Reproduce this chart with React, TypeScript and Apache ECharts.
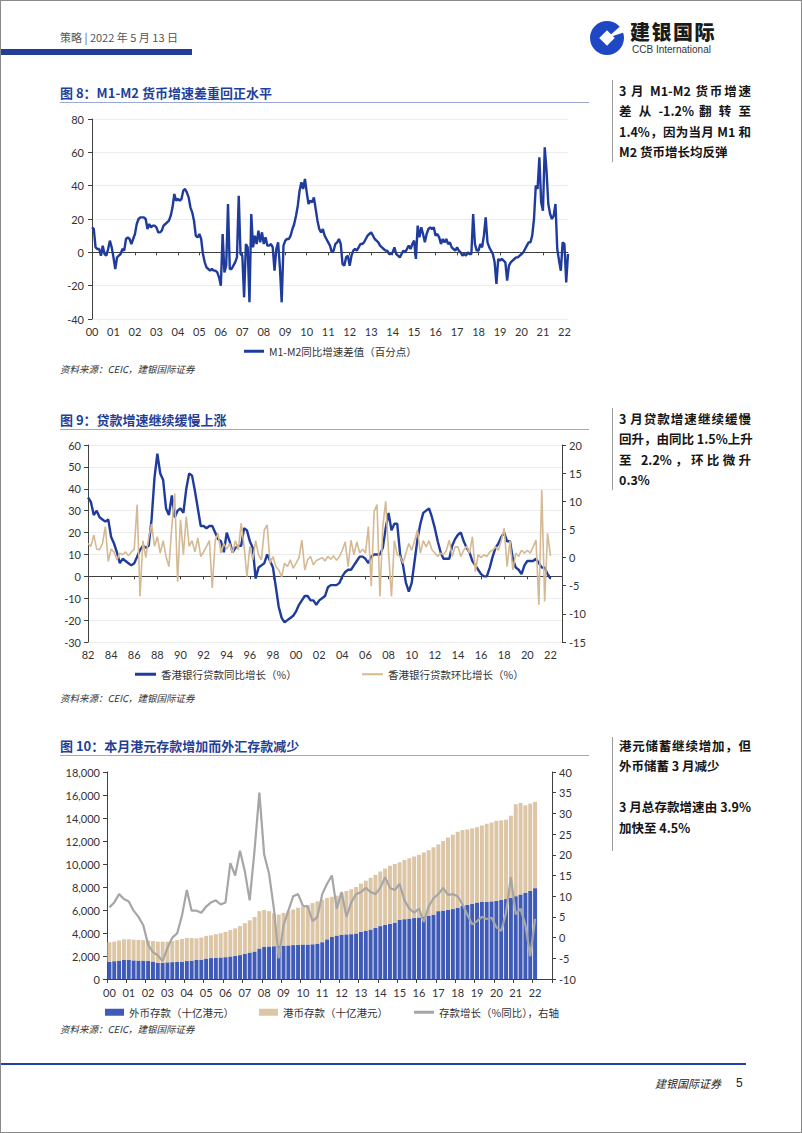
import React, { useEffect, useRef } from "react";
import * as echarts from "echarts";

const FONT = "Lato, 'Noto Sans CJK SC', sans-serif";
const CJK = "'Noto Sans CJK SC', sans-serif";

// ---------- Figure 8: M1-M2 gap, monthly 2000-01 .. 2022-03 ----------
const fig8SeriesName = "M1-M2同比增速差值（百分点）";
const m1m2Gap = [
  15, 14, 3, 2, 2, -2, 4, -1, -2, 2, 7, 3,
  -3, -10, -3, -2, -1, 2, 1, 8, 9, 8, 5, 8,
  11, 17, 20, 21, 21, 21, 20, 14, 17, 15, 16, 16,
  15, 12, 12, 13, 16, 17, 18, 19, 22, 27, 35, 31,
  32, 31, 32, 37, 38, 36, 33, 27, 24, 19, 10, 9,
  11, 8, -1, -6, -9, -10, -11, -10, -11, -11, -12, -15,
  -20, 11, -12, -8, 29, -10, -10, -8, -6, -3, 34, -1,
  -2, -27, 5, 3, -30, 23, 3, 10, 5, 13, 6, 12,
  5, 9, 4, 4, 5, 3, -11, 2, 6, -9, -30, 4,
  7, 8, 8, 10, 14, 17, 22, 28, 37, 42, 38, 44,
  36, 29, 31, 30, 33, 26, 19, 14, 12, 14, 10, 8,
  6, 4, 0, 1, 5, 6, 8, 5, -7, -8, -3, -2,
  -8, -2, 1, 2, 1, 3, 5, 5, 6, 8, 10, 11,
  12, 10, 8, 7, 6, 4, 3, 2, 1, 1, -1, -1,
  0, 3, -1, -2, -3, -1, 1, 0, 2, 4, 2, 5,
  7, -4, 16, 9, 15, 11, 6, 11, 14, 15, 14, 15,
  10, 11, 9, 5, 8, 6, 8, 5, 6, 3, 2, 1,
  3, 1, 0, -2, -1, -2, 0, -1, -1, 23, 5, 1,
  1, 5, 3, 10, 21, 6, 3, 1, -1, -6, -19, -4,
  -5, -4, -5, -6, -17, -8, -6, -5, -4, -3, -3, -2,
  -1, 0, 2, 4, 6, 6, 10, 20, 40, 38, 57, 30,
  25, 63, 49, 29, 23, 20, 22, 29, 2, -5, -11, 6,
  5, -18, -1,
];
const fig8Months: string[] = [];
for (let y = 2000; y <= 2022; y++) {
  for (let m = 1; m <= 12; m++) {
    if (y === 2022 && m > 3) break;
    fig8Months.push(`${y}-${String(m).padStart(2, "0")}`);
  }
}

// ---------- Figure 9: HK bank loans, quarterly 1982Q1 .. 2022Q1 ----------
const fig9YoYName = "香港银行贷款同比增长（%）";
const fig9MoMName = "香港银行贷款环比增长（%）";
const loanYoY = [
  36, 34, 28, 30, 27, 26, 25, 26, 18, 15, 11, 6, 8, 7, 6, 5,
  6, 9, 12, 14, 13, 14, 26, 45, 56, 47, 44, 31, 28, 37, 27, 30,
  31, 29, 40, 47, 46, 39, 31, 23, 23, 22, 23, 23, 20, 17, 16, 11,
  20, 16, 11, 13, 14, 14, 22, 21, 16, 13, -1, 4, 5, 6, 10, 7,
  4, -5, -14, -19, -21, -20, -19, -18, -16, -13, -11, -9, -9, -11, -11, -13,
  -11, -10, -9, -5, -4, -4, -4, -3, 0, 2, 3, 3, 5, 7, 9, 9,
  8, 6, 9, 10, 10, 10, 13, 22, 29, 21, 24, 24, 10, 5, -3, -7,
  -3, 7, 17, 24, 29, 30, 31, 27, 22, 16, 11, 8, 8, 8, 14, 17,
  19, 20, 16, 13, 11, 7, 5, 3, 1, 0, 0, 4, 9, 13, 15, 18,
  20, 16, 16, 8, 4, 3, 1, 5, 7, 7, 7, 8, 6, 4, 4, 1,
  -1,
];
const loanMoM = [
  2.5, 2, 4, 1.5, 1.4, 2.5, 5.5, -0.7, 1.5, 1, -0.4, 0.8, 0.5, 1, 0.3, 1,
  1.5, 9.4, -6.9, 3, 0, 3.5, 6, 2, 3.7, 0.8, 3, 0.2, -1.6, 5.5, 11.4, -4.3,
  6.7, 0.5, 7.3, 2, 3, 1, 3.5, 0.2, 1, 2, 3, -5.4, 3, 4.3, 0.8, 2.5,
  1.5, 2.5, 0.8, 3, 1.4, 6.1, 2, -3.4, 2, -0.4, 3, 0.5, -0.4, 4.9, 5.8, -1,
  0.2, -1.6, -2.2, -3.4, -1, -1.6, -0.4, -1.9, -1, 0, 3.1, -2.2, -0.4, 0.2, -1.3, -0.5,
  -0.3, 0, -0.6, 0.2, -0.3, 0.3, -0.5, 0.2, 1.3, 2.8, -1.6, 3.1, 0.5, 2.8, 0.8, 1.5,
  0.8, 5.5, -5.1, 8.2, 9.4, -6.9, 5.5, 10, 0.8, -6.9, 3, 0.5, 0.2, -1, 0.8, 2.5,
  1.3, 3, 4.9, 0.8, 3, 1.9, 3, 1.4, 0.8, 0.2, 0.8, 0.5, 1.3, 3.1, 0.2, 1.9,
  1.9, 0.2, 1.3, 2, 0.8, 3.7, -2.5, 0.5, 0, 0.5, 0.2, 1, 1.3, 1.9, 1.3, 3.1,
  5.2, -1.6, 3, -2.2, 0.8, 0.2, 1.3, 0.8, 1.3, 0.8, 1.9, 3.1, -8.4, 12, -7.8, 4.3,
  0.3,
];
const fig9Quarters: string[] = [];
for (let y = 1982; y <= 2023; y++) {
  for (let q = 1; q <= 4; q++) {
    if (y === 2023 && q > 1) break;
    fig9Quarters.push(`${y}Q${q}`);
  }
}

// ---------- Figure 10: deposits, quarterly 2000Q1 .. 2022Q1 ----------
const fig10FxName = "外币存款（十亿港元）";
const fig10HkdName = "港币存款（十亿港元）";
const fig10GrowthName = "存款增长（%同比），右轴";
const fxDeposits = [
  1500, 1550, 1600, 1650, 1650, 1620, 1600, 1600, 1580, 1520, 1420, 1400,
  1450, 1470, 1480, 1500, 1560, 1600, 1650, 1680, 1780, 1820, 1850, 1870,
  1900, 1960, 2020, 2080, 2200, 2300, 2400, 2650, 2800, 2830, 2850, 2870,
  2900, 2920, 2950, 2980, 3000, 3000, 3020, 3080, 3200, 3450, 3650, 3780,
  3850, 3880, 3900, 3960, 4100, 4200, 4300, 4450, 4600, 4700, 4800, 4900,
  5150, 5200, 5250, 5300, 5350, 5400, 5480, 5600, 5900, 5950, 6000, 6080,
  6200, 6350, 6450, 6550, 6650, 6700, 6700, 6750, 6800, 6900, 6950, 7050,
  7200, 7350, 7500, 7650, 7900,
];
const hkdDeposits = [
  1700, 1700, 1750, 1800, 1800, 1800, 1800, 1780, 1770, 1780, 1830, 1850,
  1800, 1830, 1900, 1980, 2000, 1960, 1880, 1920, 1970, 1980, 2050, 2110,
  2200, 2290, 2380, 2520, 2650, 2800, 3000, 3250, 3200, 3070, 2850, 2730,
  2850, 2980, 3100, 3220, 3300, 3450, 3580, 3670, 3700, 3600, 3500, 3470,
  3650, 3770, 3900, 4040, 4200, 4350, 4500, 4600, 4750, 4900, 5050, 5100,
  5000, 5150, 5250, 5350, 5450, 5600, 5720, 5850, 5800, 6050, 6300, 6470,
  6600, 6600, 6550, 6550, 6550, 6650, 6800, 6850, 6950, 6900, 6900, 7150,
  8000, 7950, 7600, 7600, 7500,
];
const depositGrowth = [
  7.3, 8.5, 10.5, 9.3, 8.7, 6.5, 5, 3, -1.7, -3.5, -4.3, -5.7,
  -2.5, 0, 1, 5.3, 11.5, 6.5, 6.5, 6, 7.5, 8.5, 9, 8,
  8.5, 18, 15, 21, 16, 9, 21, 35, 20, 15.5, 7, -5,
  3, 6.5, 10, 10.5, 7.7, 7.5, 4, 5, 10.5, 13, 15, 7,
  11, 5, 8.5, 10.5, 11, 12, 11, 10.5, 12, 14.6, 12, 11.5,
  13, 9, 7, 6, 7, 3.8, 7.5, 9.5, 10.5, 12, 10.3, 10.5,
  10, 8, 5.5, 3.2, 4, 5, 4.5, 4.8, 2.5, 1.6, 6, 14.6,
  5.6, 7, 3, -4.5, 4.5,
];
const fig10Quarters: string[] = [];
for (let y = 2000; y <= 2022; y++) {
  for (let q = 1; q <= 4; q++) fig10Quarters.push(`${y}Q${q}`);
}

const sourceText = "资料来源：CEIC，建银国际证券";

const yearLabel = (v: string) => v.slice(2, 4);
const AX = "#404040";
const LBL = { fontSize: 11, color: "#333", fontFamily: FONT };
const LEG_TXT = { fontSize: 10.5, color: "#333", fontFamily: CJK };

const opt1 = {
  animation: false,
  textStyle: { fontFamily: FONT },
  grid: { left: 92, right: 234, top: 14, height: 200 },
  legend: {
    data: [fig8SeriesName], left: 239, top: 236, icon: "rect",
    itemWidth: 20, itemHeight: 3, itemGap: 4, textStyle: LEG_TXT,
  },
  xAxis: [
    {
      type: "category", data: fig8Months, boundaryGap: false,
      axisLine: { show: false, onZero: false }, axisTick: { show: false },
      axisLabel: { ...LBL, interval: 11, formatter: yearLabel, margin: 7 },
      splitLine: { show: false },
    },
    {
      type: "category", data: fig8Months, boundaryGap: false, position: "bottom",
      axisLine: { show: true, onZero: true, lineStyle: { color: AX } },
      axisTick: { show: true, interval: 11, length: 3, lineStyle: { color: AX } },
      axisLabel: { show: false }, splitLine: { show: false },
    },
  ],
  yAxis: {
    type: "value", min: -40, max: 80, interval: 20,
    axisLine: { show: true, lineStyle: { color: AX } },
    axisTick: { show: true, length: 4, lineStyle: { color: AX } },
    axisLabel: { ...LBL, margin: 8 },
    splitLine: { lineStyle: { color: "#ececec" } },
  },
  series: [
    {
      name: fig8SeriesName, type: "line", data: m1m2Gap, symbol: "none",
      lineStyle: { color: "#1f3c9c", width: 2.4 }, itemStyle: { color: "#1f3c9c" },
    },
  ],
};

const opt2 = {
  animation: false,
  textStyle: { fontFamily: FONT },
  grid: { left: 88, right: 240, top: 10, height: 197 },
  legend: [
    { data: [fig9YoYName], left: 130, top: 229, icon: "rect", itemWidth: 21, itemHeight: 3, itemGap: 4, textStyle: LEG_TXT },
    { data: [fig9MoMName], left: 357, top: 229, icon: "rect", itemWidth: 21, itemHeight: 2, itemGap: 4, textStyle: LEG_TXT },
  ],
  xAxis: [
    {
      type: "category", data: fig9Quarters, boundaryGap: false,
      axisLine: { show: false, onZero: false }, axisTick: { show: false },
      axisLabel: { ...LBL, interval: 7, formatter: yearLabel, margin: 7 },
      splitLine: { show: false },
    },
    {
      type: "category", data: fig9Quarters, boundaryGap: false, position: "bottom",
      axisLine: { show: true, onZero: true, onZeroAxisIndex: 0, lineStyle: { color: AX } },
      axisTick: { show: true, interval: 7, length: 3, lineStyle: { color: AX } },
      axisLabel: { show: false }, splitLine: { show: false },
    },
  ],
  yAxis: [
    {
      type: "value", min: -30, max: 60, interval: 10, position: "left",
      axisLine: { show: true, lineStyle: { color: AX } },
      axisTick: { show: true, length: 4, lineStyle: { color: AX } },
      axisLabel: { ...LBL, margin: 7 },
      splitLine: { lineStyle: { color: "#ececec" } },
    },
    {
      type: "value", min: -15, max: 20, interval: 5, position: "right",
      axisLine: { show: true, lineStyle: { color: AX } },
      axisTick: { show: true, length: 4, lineStyle: { color: AX } },
      axisLabel: { ...LBL, margin: 7 },
      splitLine: { show: false },
    },
  ],
  series: [
    {
      name: fig9YoYName, type: "line", data: loanYoY, symbol: "none", yAxisIndex: 0,
      lineStyle: { color: "#1f3c9c", width: 2.4 }, itemStyle: { color: "#1f3c9c" },
    },
    {
      name: fig9MoMName, type: "line", data: loanMoM, symbol: "none", yAxisIndex: 1,
      lineStyle: { color: "#d4b993", width: 1.6 }, itemStyle: { color: "#d4b993" },
    },
  ],
};

const opt3 = {
  animation: false,
  textStyle: { fontFamily: FONT },
  grid: { left: 107, right: 250, top: 12, height: 207 },
  legend: [
    { data: [fig10FxName], left: 100, top: 242, icon: "rect", itemWidth: 19, itemHeight: 7, itemGap: 4, textStyle: LEG_TXT },
    { data: [fig10HkdName], left: 254, top: 242, icon: "rect", itemWidth: 19, itemHeight: 7, itemGap: 4, textStyle: LEG_TXT },
    { data: [fig10GrowthName], left: 409, top: 242, icon: "rect", itemWidth: 20, itemHeight: 3, itemGap: 4, textStyle: LEG_TXT },
  ],
  xAxis: {
    type: "category", data: fig10Quarters, boundaryGap: true,
    axisLine: { show: true, lineStyle: { color: AX } },
    axisTick: { show: true, interval: 3, length: 4, lineStyle: { color: AX } },
    axisLabel: { ...LBL, interval: 3, formatter: yearLabel, margin: 8 },
    splitLine: { show: false },
  },
  yAxis: [
    {
      type: "value", min: 0, max: 18000, interval: 2000, position: "left",
      axisLine: { show: true, lineStyle: { color: AX } },
      axisTick: { show: true, length: 4, lineStyle: { color: AX } },
      axisLabel: { ...LBL, margin: 7, formatter: (v: number) => v.toLocaleString("en-US") },
      splitLine: { show: false },
    },
    {
      type: "value", min: -10, max: 40, interval: 5, position: "right",
      axisLine: { show: true, lineStyle: { color: AX } },
      axisTick: { show: true, length: 4, lineStyle: { color: AX } },
      axisLabel: { ...LBL, margin: 7 },
      splitLine: { show: false },
    },
  ],
  series: [
    {
      name: fig10FxName, type: "bar", stack: "dep", data: fxDeposits, barCategoryGap: "18%",
      itemStyle: { color: "#3f5bb7" },
    },
    {
      name: fig10HkdName, type: "bar", stack: "dep", data: hkdDeposits, barCategoryGap: "18%",
      itemStyle: { color: "#dcc6a6" },
    },
    {
      name: fig10GrowthName, type: "line", data: depositGrowth, yAxisIndex: 1, symbol: "none", z: 5,
      lineStyle: { color: "#a6a6a6", width: 2.2 }, itemStyle: { color: "#a6a6a6" },
    },
  ],
};

function EChart({ option, top, height }: { option: any; top: number; height: number }) {
  const ref = useRef<HTMLDivElement>(null);
  useEffect(() => {
    const chart = echarts.init(ref.current!, null, { renderer: "svg" });
    chart.setOption(option);
    return () => chart.dispose();
  }, [option]);
  return <div ref={ref} style={{ position: "absolute", left: 0, top, width: 802, height }} />;
}

function Txt({ x, y, size, children, style, lh }: { x: number; y: number; size: number; children: any; style?: any; lh?: number }) {
  const h = lh ?? Math.round(size * 1.4);
  return (
    <div
      style={{
        position: "absolute", left: x, top: y - h / 2, fontSize: size, lineHeight: `${h}px`,
        whiteSpace: "nowrap", ...style,
      }}
    >
      {children}
    </div>
  );
}

function FigTitle({ y, text }: { y: number; text: string }) {
  return (
    <>
      <Txt x={60} y={y} size={13} style={{ fontWeight: 700, color: "#1f3f98", fontFamily: CJK }}>{text}</Txt>
      <div style={{ position: "absolute", left: 60, top: y + 9, width: 529, height: 1, background: "#9aa9d0" }} />
    </>
  );
}

function SideNote({ top, lines, barTop, barHeight }: { top: number; lines: string[]; barTop: number; barHeight: number }) {
  return (
    <>
      <div style={{ position: "absolute", left: 612, top: barTop, width: 1, height: barHeight, background: "#9a9a9a" }} />
      <div style={{ position: "absolute", left: 619, top: top - 10.25, width: 132, fontFamily: CJK, fontWeight: 700, fontSize: 12.5, lineHeight: "20.5px", color: "#151515" }}>
        {lines.map((l, i) => {
          const justify = l.endsWith("|");
          const t = justify ? l.slice(0, -1) : l;
          return (
            <div key={i} style={{ height: 20.5, textAlign: justify ? "justify" : "left", textAlignLast: justify ? "justify" : "left", whiteSpace: "nowrap" } as any}>
              {t || "\u00a0"}
            </div>
          );
        })}
      </div>
    </>
  );
}

function Source({ y }: { y: number }) {
  return (
    <Txt x={60} y={y} size={9.5} style={{ fontStyle: "italic", color: "#333", fontFamily: CJK }}>{sourceText}</Txt>
  );
}

export default function App() {
  return (
    <div style={{ position: "absolute", left: 0, top: 0, width: 802, height: 1133, background: "#fff", overflow: "hidden", fontFamily: CJK }}>
      {/* header */}
      <Txt x={60} y={37} size={11} style={{ color: "#555" }}>策略 | 2022 年 5 月 13 日</Txt>
      <div style={{ position: "absolute", left: 0, top: 49, width: 192, height: 6, background: "#213f99" }} />
      <svg style={{ position: "absolute", left: 589, top: 20 }} width={36} height={36} viewBox="0 0 36 36">
        <circle cx={18} cy={18} r={17} fill="#1f47c4" />
        <rect x={12.5} y={12.5} width={11} height={11} fill="#fff" transform="rotate(45 18 18)" />
        <polygon points="18,18 36,2 36,12" fill="#fff" />
      </svg>
      <Txt x={630} y={32} size={20} lh={22} style={{ fontWeight: 900, color: "#1a1a1a", letterSpacing: 1.5 }}>建银国际</Txt>
      <Txt x={632} y={49.5} size={10} lh={11} style={{ color: "#333", fontFamily: "'Liberation Sans', Arimo, sans-serif" }}>CCB International</Txt>

      {/* figure 8 */}
      <FigTitle y={93} text="图 8：M1-M2 货币增速差重回正水平" />
      <SideNote top={91} barTop={80} barHeight={82}
        lines={["3 月 M1-M2 货币增速|", "差 从 -1.2% 翻 转 至|", "1.4%，因为当月 M1 和|", "M2 货币增长均反弹"]} />
      <EChart option={opt1} top={105} height={260} />
      <Source y={369} />

      {/* figure 9 */}
      <FigTitle y={420} text="图 9：贷款增速继续缓慢上涨" />
      <SideNote top={419} barTop={408} barHeight={82}
        lines={["3 月贷款增速继续缓慢|", "回升，由同比 1.5%上升|", "至  2.2%，环比微升|", "0.3%"]} />
      <EChart option={opt2} top={435} height={255} />
      <Source y={698} />

      {/* figure 10 */}
      <FigTitle y={746} text="图 10：本月港元存款增加而外汇存款减少" />
      <SideNote top={746} barTop={737} barHeight={114}
        lines={["港元储蓄继续增加，但|", "外币储蓄 3 月减少", "", "3 月总存款增速由 3.9%|", "加快至 4.5%"]} />
      <EChart option={opt3} top={760} height={262} />
      <Source y={1029} />

      {/* footer */}
      <div style={{ position: "absolute", left: 0, top: 1063, width: 746, height: 2, background: "#233fae" }} />
      <Txt x={655} y={1083} size={11} style={{ fontStyle: "italic", color: "#222" }}>建银国际证券</Txt>
      <Txt x={736} y={1083} size={12} style={{ color: "#222", fontFamily: "'Liberation Sans Narrow', 'Liberation Sans', sans-serif" }}>5</Txt>

      {/* page frame */}
      <div style={{ position: "absolute", left: 0, top: 0, width: 802, height: 1133, border: "1px solid #8a8a8a", boxSizing: "border-box", pointerEvents: "none" }} />
    </div>
  );
}
